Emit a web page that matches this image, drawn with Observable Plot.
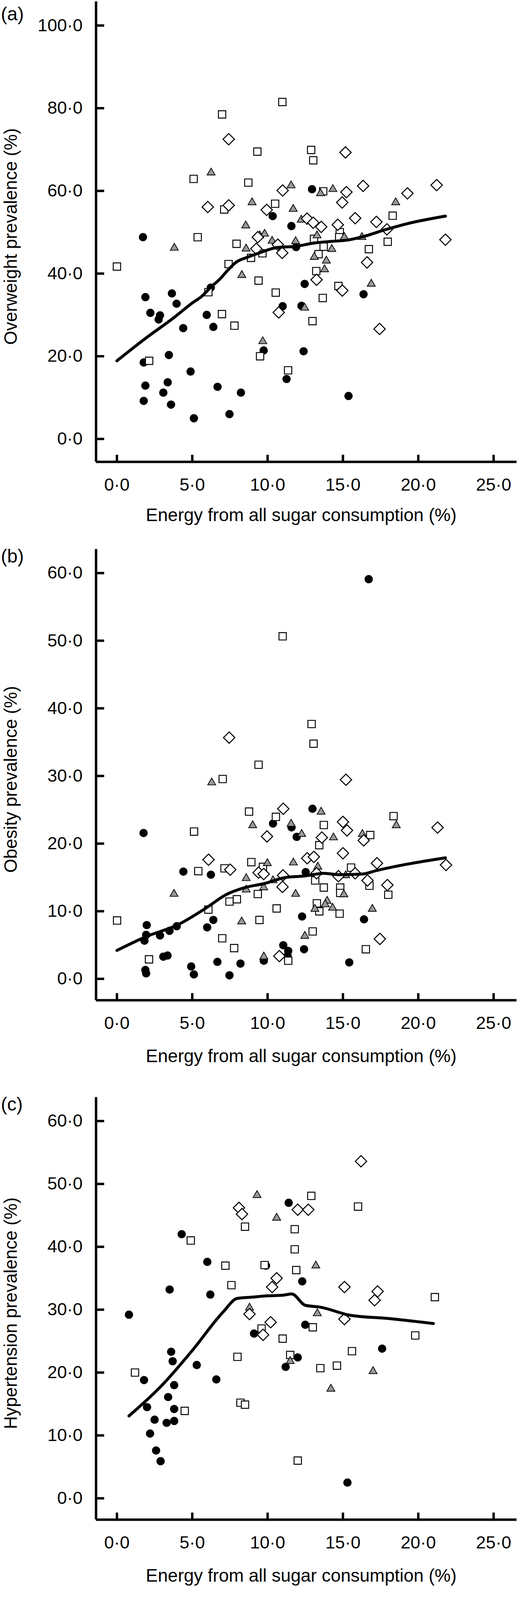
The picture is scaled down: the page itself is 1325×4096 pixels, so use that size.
<!DOCTYPE html>
<html><head><meta charset="utf-8">
<script src="https://cdn.jsdelivr.net/npm/d3@7"></script>
<script src="https://cdn.jsdelivr.net/npm/@observablehq/plot@0.6"></script>
<style>
html,body{margin:0;padding:0;background:#fff;}
#root{position:relative;width:1325px;height:4096px;overflow:hidden;background:#fff;}
#root svg{position:absolute;left:0;}
</style></head><body><div id="root"></div>
<script>
const S = 0.882;
const xTicks = [0, 5, 10, 15, 20, 25];
const yTicksA = [0, 20, 40, 60, 80, 100];
const yTicksB = [0, 10, 20, 30, 40, 50, 60];
const yTicksC = [0, 10, 20, 30, 40, 50, 60];
const xTitle = "Energy from all sugar consumption (%)";

// ---- Panel (a): overweight ----
const aCircle = [[1.73,48.8],[12.95,60.4],[10.34,53.9],[11.58,51.5],[11.89,46.4],[12.46,37.5],[6.23,36.6],[1.89,34.3],[3.65,35.2],[3.96,32.7],[2.22,30.5],[2.86,29.9],[2.77,28.9],[4.40,26.8],[5.96,30.0],[6.40,27.1],[3.45,20.3],[1.78,18.5],[4.89,16.3],[1.89,12.9],[3.37,13.7],[3.08,11.2],[1.78,9.2],[3.59,8.3],[5.11,5.0],[6.68,12.6],[7.47,6.0],[8.23,11.2],[16.37,35.0],[11.0,32.1],[12.25,32.2],[9.74,21.4],[12.39,21.2],[11.26,14.5],[15.37,10.4]];
const aSquare = [[6.98,78.5],[9.32,69.5],[5.09,62.9],[8.72,62.0],[7.12,55.5],[5.36,48.8],[7.94,47.2],[10.98,81.5],[12.89,69.9],[13.03,67.4],[13.69,59.9],[10.5,56.9],[18.3,54.0],[14.79,50.0],[14.75,48.8],[13.08,48.4],[13.72,46.5],[13.38,44.7],[13.23,40.6],[16.72,45.9],[17.97,47.7],[14.7,37.0],[0.0,41.7],[8.9,43.8],[7.41,42.3],[9.4,38.3],[6.07,35.5],[6.97,30.2],[7.80,27.4],[2.14,18.9],[9.66,44.9],[10.54,35.4],[13.66,34.1],[12.98,28.5],[9.5,20.0],[11.36,16.6]];
const aTriangle = [[6.25,64.4],[8.97,57.2],[8.55,51.6],[11.56,61.3],[13.51,59.4],[14.33,60.4],[11.7,55.6],[18.5,57.2],[12.23,53.0],[15.09,48.8],[16.26,48.8],[13.28,49.2],[11.86,47.8],[14.26,45.9],[13.1,44.0],[13.9,43.1],[13.78,41.0],[16.88,37.5],[3.81,46.2],[8.57,46.0],[8.29,39.6],[10.3,47.9],[9.48,49.2],[9.8,49.6],[12.46,31.7],[9.68,23.6]];
const aDiamond = [[7.42,72.5],[6.03,56.1],[7.42,56.5],[15.17,69.3],[11.0,60.1],[15.23,59.7],[16.34,61.2],[21.22,61.4],[19.28,59.4],[14.95,57.2],[9.94,55.4],[12.62,53.3],[13.03,52.3],[13.56,51.3],[14.66,51.8],[15.81,53.4],[17.22,52.5],[17.92,50.7],[21.8,48.2],[13.25,38.5],[16.6,42.7],[9.25,46.0],[9.35,48.8],[10.68,47.0],[10.97,45.0],[14.96,35.9],[10.74,30.6],[17.43,26.6]];
const aLowess = [[0,18.9],[1.78,24.0],[3.87,29.6],[4.97,32.8],[5.63,34.5],[6.23,36.7],[6.84,38.7],[7.38,40.9],[7.93,42.8],[8.7,44.0],[9.45,45.0],[10.62,46.3],[11.9,46.6],[13.1,47.4],[14.3,47.8],[15.3,48.1],[16.3,48.9],[17.8,50.6],[19.3,52.1],[21.8,53.9]];

// ---- Panel (b): obesity ----
const bCircle = [[16.71,59.1],[10.36,22.96],[11.59,22.4],[11.93,20.99],[1.77,21.56],[4.41,15.86],[6.24,15.4],[12.53,15.79],[12.98,25.15],[1.98,7.95],[1.94,6.5],[1.83,5.65],[2.86,6.42],[3.49,7.1],[3.97,7.78],[6.4,8.71],[5.99,7.61],[12.29,9.22],[16.4,8.8],[12.42,4.38],[11.04,4.97],[11.37,4.13],[11.33,3.45],[9.75,2.68],[6.67,2.51],[8.2,2.26],[7.47,0.52],[4.93,1.83],[5.11,0.65],[1.89,1.32],[1.94,0.82],[3.08,3.28],[3.36,3.45],[15.42,2.43]];
const bSquare = [[11.0,50.65],[9.4,31.66],[7.02,29.55],[8.77,24.73],[10.55,23.95],[5.12,21.78],[5.40,15.93],[7.14,16.34],[8.92,17.26],[9.69,16.56],[9.35,12.54],[12.92,37.68],[13.05,34.77],[13.73,22.75],[18.36,24.06],[13.43,19.77],[16.81,21.27],[15.54,16.45],[13.16,14.55],[13.73,13.5],[14.82,13.5],[14.82,12.7],[16.76,13.77],[18.01,12.44],[0.01,8.63],[6.07,10.24],[9.46,8.71],[7.47,11.43],[7.96,11.77],[10.6,10.41],[13.27,11.17],[13.43,9.98],[14.78,9.64],[16.52,4.38],[12.99,7.01],[11.37,2.68],[7.78,4.55],[6.99,6.0],[2.13,2.89]];
const bTriangle = [[6.29,29.02],[9.01,22.69],[11.56,22.9],[12.26,21.4],[9.98,17.08],[8.58,14.87],[11.71,17.18],[10.36,14.55],[9.74,13.5],[8.58,13.18],[11.86,12.54],[3.79,12.54],[13.55,24.69],[18.54,22.69],[14.37,20.89],[16.29,21.4],[13.33,16.56],[15.18,15.29],[15.06,12.48],[8.28,8.46],[13.95,11.51],[13.82,11.0],[14.31,10.49],[13.14,10.33],[16.95,10.33],[12.47,6.33],[9.75,3.28]];
const bDiamond = [[7.45,35.67],[11.04,25.15],[9.96,21.06],[6.08,17.62],[7.52,16.14],[9.4,15.71],[9.74,15.5],[12.63,17.83],[11.02,15.3],[10.99,13.6],[15.2,29.44],[15.0,23.21],[15.27,21.95],[21.28,22.37],[13.6,20.89],[16.38,20.47],[15.0,18.57],[13.07,18.04],[17.26,17.09],[21.84,16.84],[13.25,15.61],[15.81,15.61],[14.7,15.18],[16.63,14.55],[17.95,13.87],[17.45,5.91],[10.78,3.36]];
const bLowess = [[0,4.2],[2,6.3],[4,7.95],[6,10.6],[7.2,12.4],[8.5,13.5],[9.8,14.1],[11.2,15.0],[12.4,15.2],[13.75,15.6],[14.75,15.4],[16.3,15.5],[17.2,16.0],[21.8,17.9]];

// ---- Panel (c): hypertension ----
const cCircle = [[0.8,29.2],[1.8,18.8],[2.0,14.5],[2.2,10.3],[2.5,12.5],[2.6,7.6],[2.9,5.9],[3.3,12.0],[3.4,16.1],[3.5,33.2],[3.6,23.3],[3.7,21.8],[3.8,18.0],[3.8,14.2],[3.8,12.3],[4.3,42.0],[5.3,21.2],[6.0,37.6],[6.2,32.4],[6.6,18.9],[9.1,26.2],[9.9,37.0],[11.2,20.9],[11.4,47.0],[12.0,22.4],[12.3,34.5],[12.5,27.6],[15.3,2.5],[17.6,23.8]];
const cSquare = [[1.2,20.0],[4.5,13.9],[4.9,41.0],[7.2,37.0],[7.6,33.9],[8.0,22.5],[8.2,15.2],[8.5,14.9],[8.5,43.2],[9.6,27.0],[9.8,37.1],[11.0,25.4],[11.5,22.8],[11.8,42.8],[11.8,39.6],[12.0,6.0],[11.9,36.3],[12.9,48.1],[13.0,27.2],[13.5,20.7],[14.6,21.1],[15.6,23.4],[16.0,46.4],[19.8,25.9],[21.1,32.0]];
const cTriangle = [[8.8,30.3],[9.3,48.2],[10.6,44.6],[11.5,21.8],[13.3,29.4],[13.2,37.0],[14.2,17.4],[17.0,20.2]];
const cDiamond = [[8.1,46.2],[8.3,45.2],[8.8,29.3],[9.7,26.0],[10.2,28.0],[10.3,33.6],[10.6,35.0],[12.0,45.9],[12.7,45.9],[15.1,33.6],[15.1,28.5],[16.2,53.6],[17.1,31.5],[17.3,32.9]];
const cLowess = [[0.8,13.1],[3,18.0],[5,23.5],[7,29.5],[8,31.8],[9,32.0],[10,32.2],[11,32.3],[11.6,32.5],[12.5,30.7],[13.5,30.4],[15.5,29.1],[18,28.6],[21,27.8]];

// ---- layout of the reference, in reference pixels (scaled by S) ----
const panels = [
  {label:"(a)", yTitle:"Overweight prevalence (%)", yTicks:yTicksA, circle:aCircle, square:aSquare, triangle:aTriangle, diamond:aDiamond, lowess:aLowess,
   axisTop:4, axisBottom:1340, y0:1273.5, ppu:12.0, labelBase:58, xTitleBase:1512, yTitleMid:686},
  {label:"(b)", yTitle:"Obesity prevalence (%)", yTicks:yTicksB, circle:bCircle, square:bSquare, triangle:bTriangle, diamond:bDiamond, lowess:bLowess,
   axisTop:1594, axisBottom:2903, y0:2841, ppu:19.63, labelBase:1632, xTitleBase:3083, yTitleMid:2262},
  {label:"(c)", yTitle:"Hypertension prevalence (%)", yTicks:yTicksC, circle:cCircle, square:cSquare, triangle:cTriangle, diamond:cDiamond, lowess:cLowess,
   axisTop:3184, axisBottom:4410, y0:4348, ppu:18.25, labelBase:3222, xTitleBase:4590, yTitleMid:3811}
];

const fmt = d => d.toFixed(1).replace(".", "\u00b7");
const X0 = 338.5, XPPU = 43.7, XL = 278, XR = 1498;
const xDomain = [(XL - X0) / XPPU, (XR - X0) / XPPU];
const root = document.getElementById("root");
const font = "'Liberation Sans', Arial, Helvetica, sans-serif";

for (const p of panels) {
  const svgTop = p.axisTop - 4;
  const bottomPad = 200;
  const yDomain = [(p.y0 - p.axisBottom) / p.ppu, (p.y0 - p.axisTop) / p.ppu];
  const frameMid = (p.axisTop + p.axisBottom) / 2;
  const chart = Plot.plot({
    width: 1325,
    height: (p.axisBottom + bottomPad - svgTop) * S,
    marginLeft: XL * S,
    marginRight: 1325 - XR * S,
    marginTop: 4 * S,
    marginBottom: bottomPad * S,
    x: {domain: xDomain},
    y: {domain: yDomain},
    style: {fontFamily: font, background: "transparent", overflow: "visible", color: "black"},
    marks: [
      Plot.axisX({ticks: xTicks, tickFormat: fmt, tickSize: -20 * S, tickPadding: 67 * S, strokeWidth: 7 * S, fontSize: 45, label: null}),
      Plot.axisY({ticks: p.yTicks, tickFormat: fmt, tickSize: -24 * S, tickPadding: 63 * S, strokeWidth: 7 * S, fontSize: 45, label: null}),
      Plot.ruleX([xDomain[0]], {strokeWidth: 7 * S, stroke: "black"}),
      Plot.ruleY([yDomain[0]], {strokeWidth: 7 * S, stroke: "black"}),
      Plot.dot(p.circle, {x: d => d[0], y: d => d[1], symbol: "circle", r: 10.6, fill: "black", stroke: "none"}),
      Plot.dot(p.square, {x: d => d[0], y: d => d[1], symbol: "square", r: 10.6, fill: "white", stroke: "black", strokeWidth: 2.4}),
      Plot.dot(p.triangle, {x: d => d[0], y: d => d[1], symbol: "triangle", r: 7.6, fill: "#999999", stroke: "black", strokeWidth: 1.9}),
      Plot.dot(p.diamond, {x: d => d[0], y: d => d[1], symbol: "diamond2", r: 13.1, fill: "white", stroke: "black", strokeWidth: 2.6}),
      Plot.line(p.lowess, {x: d => d[0], y: d => d[1], stroke: "black", strokeWidth: 8.5 * S, curve: "monotone-x"}),
      Plot.text([p.label], {text: d => d, frameAnchor: "top-left", textAnchor: "start", lineAnchor: "bottom", dx: (2 - XL) * S, dy: (p.labelBase - p.axisTop) * S, fontSize: 48}),
      Plot.text([xTitle], {text: d => d, frameAnchor: "bottom", textAnchor: "middle", lineAnchor: "bottom", dx: (873 - (XL + XR) / 2) * S, dy: (p.xTitleBase - p.axisBottom) * S, fontSize: 46}),
      Plot.text([p.yTitle], {text: d => d, frameAnchor: "left", textAnchor: "middle", lineAnchor: "bottom", rotate: -90, dx: (48 - XL) * S, dy: (p.yTitleMid - frameMid) * S, fontSize: 46})
    ]
  });
  chart.style.top = (svgTop * S) + "px";
  root.append(chart);
}
</script></body></html>
